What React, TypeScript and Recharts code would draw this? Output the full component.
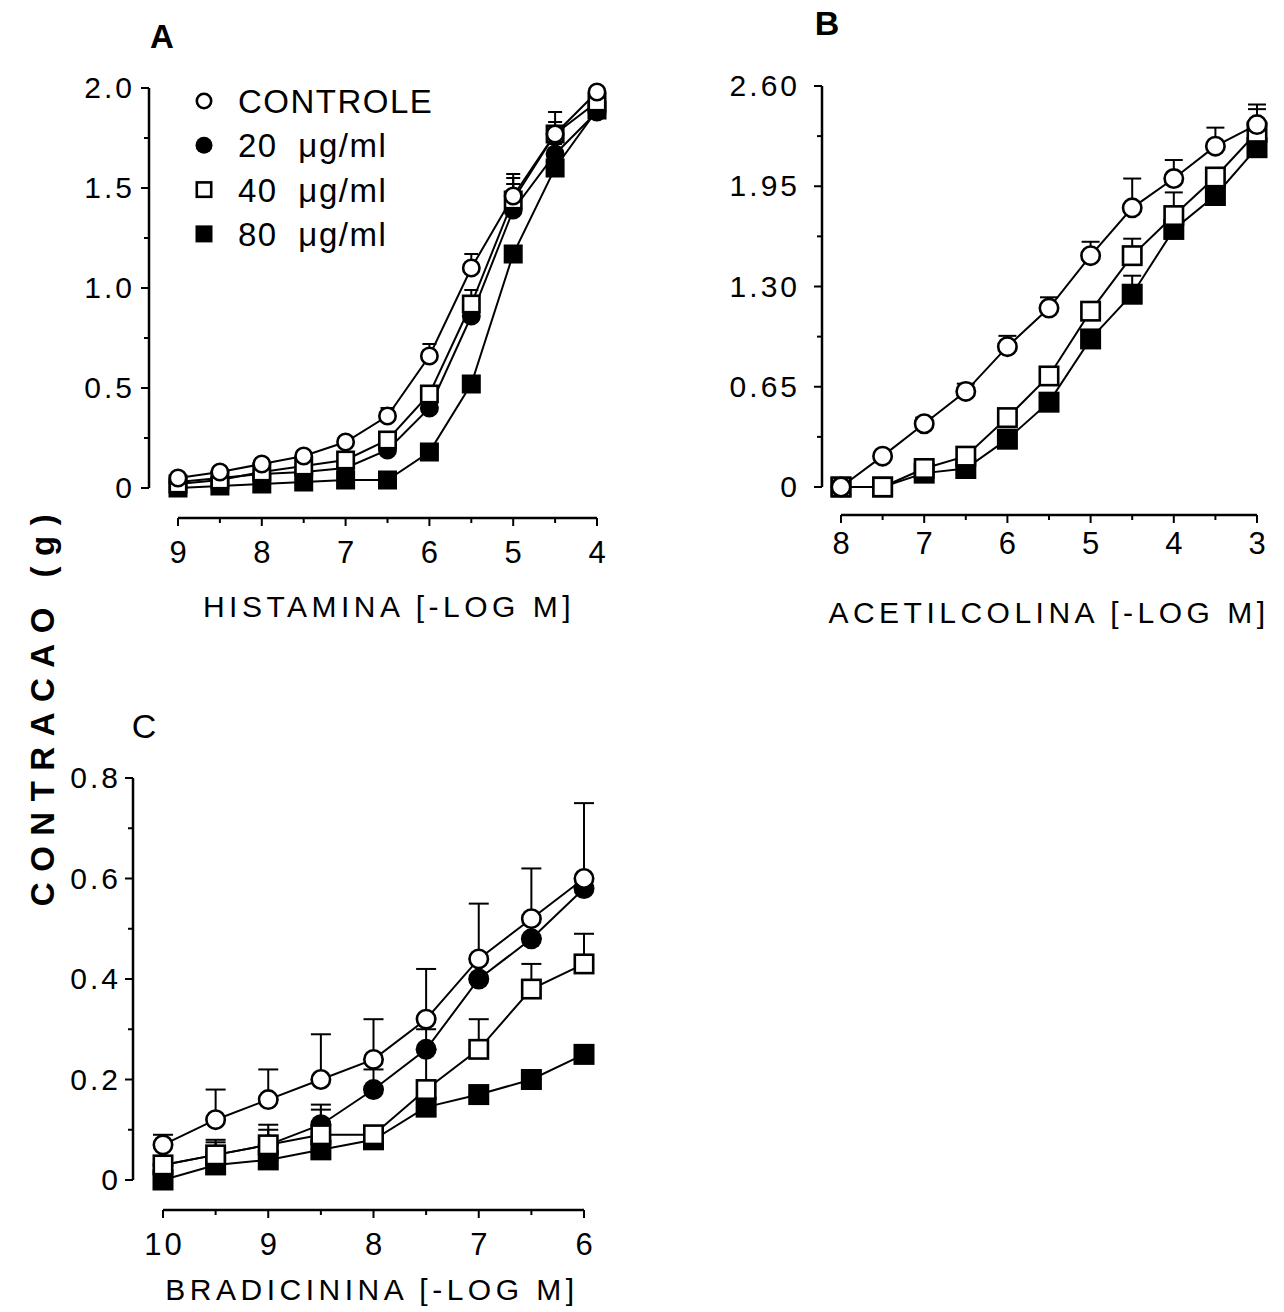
import React from 'react';
import { LineChart, Line, XAxis, YAxis, ErrorBar, ReferenceLine, Legend } from 'recharts';

const FONT = '"Liberation Sans", Arial, Helvetica, sans-serif';

// ---------- Panel A: Histamina ----------
const histX = [9, 8.5, 8, 7.5, 7, 6.5, 6, 5.5, 5, 4.5, 4];
const histCtrl = [0.05, 0.08, 0.12, 0.16, 0.23, 0.36, 0.66, 1.10, 1.46, 1.77, 1.98];
const histCtrlErr = [0, 0.01, 0.01, 0.02, 0.02, 0.04, 0.06, 0.07, 0.11, 0.11, 0.02];
const hist20 = [0.03, 0.05, 0.07, 0.08, 0.10, 0.19, 0.40, 0.86, 1.39, 1.67, 1.88];
const hist20Err = [0, 0, 0, 0, 0, 0.02, 0.03, 0.04, 0.13, 0.05, 0.02];
const hist40 = [0.02, 0.04, 0.08, 0.11, 0.14, 0.24, 0.47, 0.92, 1.44, 1.77, 1.93];
const hist40Err = [0, 0, 0, 0, 0.01, 0.02, 0.03, 0.07, 0.11, 0.06, 0.02];
const hist80 = [0.0, 0.01, 0.02, 0.03, 0.04, 0.04, 0.18, 0.52, 1.17, 1.6, 1.89];
const hist80Err = [0, 0, 0, 0, 0, 0, 0, 0, 0, 0, 0];
const histXTicks = [9, 8.5, 8, 7.5, 7, 6.5, 6, 5.5, 5, 4.5, 4];
const histXMajor = [9, 8, 7, 6, 5, 4];
const histXLabels = ['9', '8', '7', '6', '5', '4'];
const histYTicks = [0, 0.25, 0.5, 0.75, 1, 1.25, 1.5, 1.75, 2];
const histYMajor = [0, 0.5, 1, 1.5, 2];
const histYLabels = ['0', '0.5', '1.0', '1.5', '2.0'];

// ---------- Panel B: Acetilcolina ----------
const achX = [8, 7.5, 7, 6.5, 6, 5.5, 5, 4.5, 4, 3.5, 3];
const achCtrl = [0, 0.2, 0.41, 0.62, 0.91, 1.16, 1.5, 1.81, 2.0, 2.21, 2.35];
const achCtrlErr = [0, 0.02, 0.04, 0.05, 0.07, 0.07, 0.09, 0.19, 0.12, 0.12, 0.13];
const ach40 = [0, 0, 0.12, 0.2, 0.45, 0.72, 1.14, 1.5, 1.76, 2.01, 2.3];
const ach40Err = [0, 0, 0, 0, 0, 0, 0.02, 0.11, 0.15, 0.04, 0.15];
const ach80 = [0, 0, 0.09, 0.12, 0.31, 0.55, 0.96, 1.25, 1.67, 1.89, 2.2];
const ach80Err = [0, 0, 0, 0, 0, 0, 0, 0.12, 0.04, 0, 0];
const achXTicks = [8, 7.5, 7, 6.5, 6, 5.5, 5, 4.5, 4, 3.5, 3];
const achXMajor = [8, 7, 6, 5, 4, 3];
const achXLabels = ['8', '7', '6', '5', '4', '3'];
const achYTicks = [0, 0.325, 0.65, 0.975, 1.3, 1.625, 1.95, 2.275, 2.6];
const achYMajor = [0, 0.65, 1.3, 1.95, 2.6];
const achYLabels = ['0', '0.65', '1.30', '1.95', '2.60'];

// ---------- Panel C: Bradicinina ----------
const bkX = [10, 9.5, 9, 8.5, 8, 7.5, 7, 6.5, 6];
const bkCtrl = [0.07, 0.12, 0.16, 0.2, 0.24, 0.32, 0.44, 0.52, 0.6];
const bkCtrlErr = [0.02, 0.06, 0.06, 0.09, 0.08, 0.1, 0.11, 0.1, 0.15];
const bk20 = [0.03, 0.05, 0.07, 0.11, 0.18, 0.26, 0.4, 0.48, 0.58];
const bk20Err = [0.01, 0.03, 0.04, 0.04, 0.04, 0.04, 0, 0, 0];
const bk40 = [0.03, 0.05, 0.07, 0.09, 0.09, 0.18, 0.26, 0.38, 0.43];
const bk40Err = [0, 0.025, 0.03, 0.05, 0.01, 0.08, 0.06, 0.05, 0.06];
const bk80 = [0.0, 0.03, 0.04, 0.06, 0.08, 0.145, 0.17, 0.2, 0.25];
const bk80Err = [0, 0, 0, 0, 0, 0, 0, 0, 0];
const bkXTicks = [10, 9.5, 9, 8.5, 8, 7.5, 7, 6.5, 6];
const bkXMajor = [10, 9, 8, 7, 6];
const bkXLabels = ['10', '9', '8', '7', '6'];
const bkYTicks = [0, 0.1, 0.2, 0.3, 0.4, 0.5, 0.6, 0.7, 0.8];
const bkYMajor = [0, 0.2, 0.4, 0.6, 0.8];
const bkYLabels = ['0', '0.2', '0.4', '0.6', '0.8'];

// ---------- Legend ----------
const legendNames = ['CONTROLE', '20 μg/ml', '40 μg/ml', '80 μg/ml'];
const legendKinds = ['oc', 'fc', 'os', 'fs'];

type Kind = 'oc' | 'fc' | 'os' | 'fs';

function Marker({ cx, cy, kind, size }: { cx: any; cy: any; kind: string; size: number }) {
  if (typeof cx !== 'number' || typeof cy !== 'number' || isNaN(cx) || isNaN(cy)) return <g />;
  const h = size / 2;
  const sw = 2.6;
  if (kind === 'oc') return <circle cx={cx} cy={cy} r={h - sw / 2} fill="#fff" stroke="#000" strokeWidth={sw} />;
  if (kind === 'fc') return <circle cx={cx} cy={cy} r={h} fill="#000" />;
  if (kind === 'os')
    return <rect x={cx - h + sw / 2} y={cy - h + sw / 2} width={size - sw} height={size - sw} fill="#fff" stroke="#000" strokeWidth={sw} />;
  return <rect x={cx - h} y={cy - h} width={size} height={size} fill="#000" />;
}

const makeDot = (kind: Kind, size: number) => (props: any) =>
  <Marker key={`${kind}-${props.index}`} cx={props.cx} cy={props.cy} kind={kind} size={size} />;

function buildData(xs: number[], vals: Record<string, number[]>, errs: Record<string, number[]>) {
  return xs.map((x, i) => {
    const row: any = { x };
    Object.keys(vals).forEach((k) => { row[k] = vals[k][i]; });
    Object.keys(errs).forEach((k) => { row[k] = [0, errs[k][i]]; });
    return row;
  });
}

function AxisTitle(props: any) {
  const { viewBox, text, cx, dy } = props;
  if (!viewBox) return null;
  return (
    <text x={cx} y={viewBox.y + dy} textAnchor="middle" fontFamily={FONT}
      fontSize={30} letterSpacing={4.5} fill="#000">{text}</text>
  );
}

type Series = { key: string; errKey: string; kind: Kind; name: string };

function Panel(p: any) {
  const yTick = (props: any) => {
    const { x, y, payload } = props;
    const i = p.yMajor.findIndex((m: number) => Math.abs(m - payload.value) < 1e-6);
    const major = i >= 0;
    return (
      <g>
        <line x1={x - (major ? 8 : 5)} x2={x} y1={y} y2={y} stroke="#000" strokeWidth={2} />
        {major && (
          <text x={x - p.yLabelGap} y={y + 10} textAnchor="end" fontFamily={FONT} fontSize={30} letterSpacing={3} fill="#000">
            {p.yLabels[i]}
          </text>
        )}
      </g>
    );
  };
  const xTick = (props: any) => {
    const { x, y, payload } = props;
    const i = p.xMajor.findIndex((m: number) => Math.abs(m - payload.value) < 1e-6);
    const major = i >= 0;
    return (
      <g>
        <line x1={x} x2={x} y1={y} y2={y + (major ? 8 : 5)} stroke="#000" strokeWidth={2} />
        {major && (
          <text x={x + 1.5} y={y + p.xLabelDy} textAnchor="middle" fontFamily={FONT} fontSize={31} letterSpacing={3} fill="#000">
            {p.xLabels[i]}
          </text>
        )}
      </g>
    );
  };
  const xLeft = p.xDomain[1];
  return (
    <div style={{ position: 'absolute', left: p.left, top: p.top }}>
      <LineChart width={p.width} height={p.height} data={p.data} margin={p.margin}>
        <XAxis type="number" dataKey="x" domain={p.xDomain} reversed allowDataOverflow ticks={p.xTicks} interval={0}
          tick={xTick} tickLine={false} axisLine={false} tickSize={0} tickMargin={0} height={100}
          label={<AxisTitle text={p.title} cx={p.titleX} dy={p.titleDy} />} />
        <YAxis type="number" domain={p.yDomain} allowDataOverflow ticks={p.yTicks} interval={0}
          tick={yTick} tickLine={false} axisLine={false} tickSize={0} tickMargin={0} width={100} />
        <ReferenceLine segment={[{ x: xLeft, y: 0 }, { x: xLeft, y: p.yTop }]} stroke="#000" strokeWidth={2.5} ifOverflow="visible" />
        <ReferenceLine segment={[{ x: p.xAxisFrom, y: p.yDomain[0] }, { x: p.xAxisTo, y: p.yDomain[0] }]} stroke="#000" strokeWidth={2.5} ifOverflow="visible" />
        {p.series.map((s: Series) => (
          <Line key={s.key} dataKey={s.key} name={s.name} type="linear" stroke="#000" strokeWidth={2}
            isAnimationActive={false} dot={makeDot(s.kind, p.markerSize)} activeDot={false}>
            <ErrorBar dataKey={s.errKey} width={p.cap} strokeWidth={2} stroke="#000" direction="y" />
          </Line>
        ))}
        {p.legend}
      </LineChart>
    </div>
  );
}

const renderLegend = () => (
  <svg width={280} height={180}>
    {legendNames.map((name, i) => {
      const cy = 22 + i * 44.3;
      return (
        <g key={name}>
          <Marker cx={19} cy={cy} kind={legendKinds[i]} size={17} />
          <text x={53} y={cy + 12} fontFamily={FONT} fontSize={33} letterSpacing={1.5} wordSpacing={10} fill="#000">{name}</text>
        </g>
      );
    })}
  </svg>
);

const seriesA: Series[] = [
  { key: 'c80', errKey: 'c80E', kind: 'fs', name: '80 μg/ml' },
  { key: 'c20', errKey: 'c20E', kind: 'fc', name: '20 μg/ml' },
  { key: 'c40', errKey: 'c40E', kind: 'os', name: '40 μg/ml' },
  { key: 'ctrl', errKey: 'ctrlE', kind: 'oc', name: 'CONTROLE' },
];
const seriesB: Series[] = [
  { key: 'c80', errKey: 'c80E', kind: 'fs', name: '80 μg/ml' },
  { key: 'c40', errKey: 'c40E', kind: 'os', name: '40 μg/ml' },
  { key: 'ctrl', errKey: 'ctrlE', kind: 'oc', name: 'CONTROLE' },
];

export default function App() {
  const dataA = buildData(histX, { ctrl: histCtrl, c20: hist20, c40: hist40, c80: hist80 },
    { ctrlE: histCtrlErr, c20E: hist20Err, c40E: hist40Err, c80E: hist80Err });
  const dataB = buildData(achX, { ctrl: achCtrl, c40: ach40, c80: ach80 },
    { ctrlE: achCtrlErr, c40E: ach40Err, c80E: ach80Err });
  const dataC = buildData(bkX, { ctrl: bkCtrl, c20: bk20, c40: bk40, c80: bk80 },
    { ctrlE: bkCtrlErr, c20E: bk20Err, c40E: bk40Err, c80E: bk80Err });

  const pad = 16;
  return (
    <div style={{ position: 'absolute', left: 0, top: 0, width: 1284, height: 1312, background: '#fff', overflow: 'hidden' }}>
      <Panel left={0} top={0} width={640} height={650}
        margin={{ top: 88 - pad, right: 43 - pad, bottom: 32, left: 49 }}
        data={dataA} series={seriesA}
        xDomain={[4 - pad / 83.8, 9 + 29 / 83.8]} yDomain={[-0.15, 2 + pad / 200]} yTop={2}
        xTicks={histXTicks} xMajor={histXMajor} xLabels={histXLabels}
        yTicks={histYTicks} yMajor={histYMajor} yLabels={histYLabels}
        xAxisFrom={9} xAxisTo={4} yLabelGap={14} xLabelDy={45}
        title="HISTAMINA [-LOG M]" titleX={389} titleDy={99}
        markerSize={19} cap={7}
        legend={<Legend layout="vertical" verticalAlign="middle" align="center" content={renderLegend}
          wrapperStyle={{ left: 185, top: 79, width: 280, height: 180 }} />} />
      <Panel left={650} top={0} width={634} height={650}
        margin={{ top: 86 - pad, right: 27 - pad, bottom: 35, left: 72 }}
        data={dataB} series={seriesB}
        xDomain={[3 - pad / 83.2, 8 + 19 / 83.2]} yDomain={[-28 / 401 * 2.6, 2.6 + pad / 401 * 2.6]} yTop={2.6}
        xTicks={achXTicks} xMajor={achXMajor} xLabels={achXLabels}
        yTicks={achYTicks} yMajor={achYMajor} yLabels={achYLabels}
        xAxisFrom={8} xAxisTo={3} yLabelGap={22} xLabelDy={39}
        title="ACETILCOLINA [-LOG M]" titleX={399} titleDy={108}
        markerSize={21} cap={9} />
      <Panel left={0} top={660} width={640} height={652}
        margin={{ top: 118 - pad, right: 56 - pad, bottom: 2, left: 33 }}
        data={dataC} series={seriesA}
        xDomain={[6 - pad / 105.25, 10 + 30 / 105.25]} yDomain={[-30 / 502.5, 0.8 + pad / 502.5]} yTop={0.8}
        xTicks={bkXTicks} xMajor={bkXMajor} xLabels={bkXLabels}
        yTicks={bkYTicks} yMajor={bkYMajor} yLabels={bkYLabels}
        xAxisFrom={10} xAxisTo={6} yLabelGap={12} xLabelDy={45}
        title="BRADICININA [-LOG M]" titleX={372} titleDy={90}
        markerSize={21} cap={10} />
      <svg style={{ position: 'absolute', left: 0, top: 0, pointerEvents: 'none' }} width={1284} height={1312}>
        <text transform="translate(54, 705) rotate(-90)" textAnchor="middle" fontFamily={FONT} fontSize={33}
          fontWeight="bold" letterSpacing={10.5} fill="#000">CONTRACAO (g)</text>
        <text x={162} y={48} textAnchor="middle" fontFamily={FONT} fontSize={33} fontWeight="bold" fill="#000">A</text>
        <text x={827} y={35} textAnchor="middle" fontFamily={FONT} fontSize={34} fontWeight="bold" fill="#000">B</text>
        <text x={144} y={738} textAnchor="middle" fontFamily={FONT} fontSize={34} fill="#000">C</text>
      </svg>
    </div>
  );
}
